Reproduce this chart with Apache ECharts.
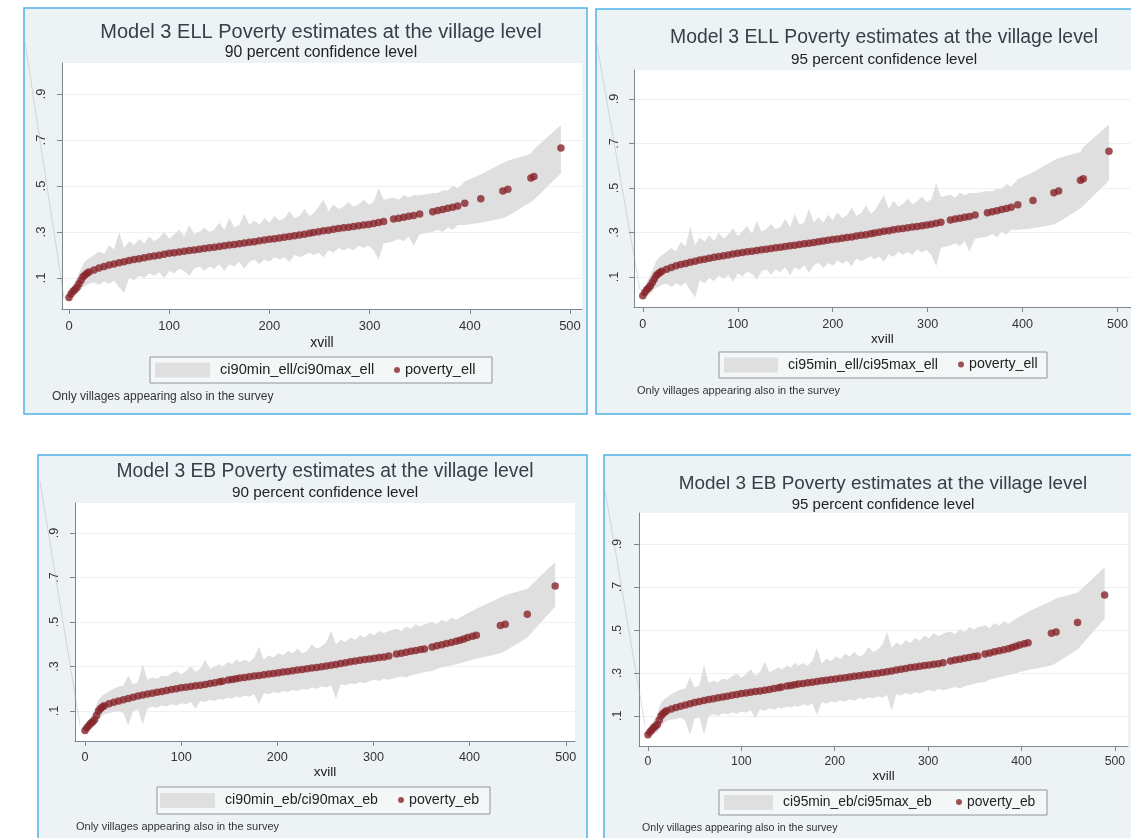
<!DOCTYPE html>
<html>
<head>
<meta charset="utf-8">
<script src="https://cdn.jsdelivr.net/npm/echarts@6/dist/echarts.min.js"></script>
<style>
  html, body { margin: 0; padding: 0; background: #ffffff; }
  #chart { width: 1131px; height: 838px; }
</style>
</head>
<body>
<div id="chart"></div>
<script>
// ---- ELL model: village rank, point estimate and confidence bounds ----
const xvillEll = [0,2,4,6,8,10,12,14,16,18,20,
  25,30,35,40,45,50,55,60,65,70,75,80,85,90,95,100,105,110,115,120,
  125,130,135,140,145,150,155,160,165,170,175,180,185,190,195,200,205,210,215,220,
  225,230,235,240,
  244,249,254,259,264,269,274,279,284,289,294,299,304,309,314,
  324,329,334,339,344,350,
  363,368,373,378,383,388,
  395,411,433,438,461,464,491];

const povertyEll = [0.015,0.03,0.042,0.05,0.06,0.075,0.09,0.105,0.113,0.12,0.126,
  0.135,0.143,0.15,0.156,0.161,0.166,0.171,0.176,0.18,0.184,0.188,0.192,0.195,0.199,0.203,0.207,0.21,0.213,0.216,0.219,
  0.222,0.225,0.228,0.231,0.234,0.237,0.24,0.243,0.246,0.249,0.252,0.255,0.258,0.262,0.265,0.268,0.271,0.274,0.277,0.28,
  0.284,0.287,0.29,0.294,
  0.298,0.301,0.305,0.308,0.312,0.315,0.318,0.321,0.324,0.327,0.33,0.333,0.337,0.341,0.346,
  0.356,0.36,0.364,0.368,0.372,0.378,
  0.388,0.393,0.398,0.403,0.408,0.413,
  0.425,0.444,0.478,0.486,0.535,0.541,0.665];

const ci90maxEll = [0.03,0.05,0.07,0.085,0.1,0.12,0.14,0.16,0.17,0.18,0.185,
  0.2,0.215,0.205,0.24,0.225,0.3,0.23,0.26,0.245,0.27,0.25,0.28,0.26,0.275,0.3,0.27,0.29,0.31,0.28,0.33,
  0.29,0.3,0.32,0.3,0.31,0.34,0.31,0.36,0.32,0.33,0.38,0.33,0.35,0.33,0.36,0.34,0.37,0.35,0.36,0.39,
  0.36,0.37,0.4,0.37,
  0.38,0.41,0.44,0.39,0.42,0.4,0.41,0.43,0.41,0.42,0.44,0.42,0.43,0.49,0.44,
  0.45,0.44,0.46,0.45,0.46,0.46,
  0.47,0.47,0.48,0.48,0.5,0.49,
  0.52,0.55,0.6,0.61,0.64,0.66,0.765];

const ci90minEll = [0.005,0.015,0.02,0.025,0.03,0.04,0.05,0.06,0.065,0.07,0.075,
  0.08,0.07,0.085,0.075,0.09,0.06,0.035,0.1,0.09,0.11,0.1,0.12,0.11,0.125,0.1,0.13,0.12,0.14,0.13,0.11,
  0.14,0.15,0.13,0.15,0.14,0.16,0.13,0.16,0.15,0.17,0.14,0.17,0.18,0.16,0.18,0.17,0.19,0.18,0.19,0.17,
  0.2,0.19,0.2,0.21,
  0.2,0.21,0.19,0.22,0.21,0.23,0.22,0.23,0.22,0.24,0.23,0.24,0.22,0.18,0.25,
  0.26,0.27,0.26,0.28,0.24,0.29,
  0.3,0.31,0.3,0.32,0.31,0.33,
  0.33,0.34,0.36,0.37,0.43,0.44,0.555];

const ci95maxEll = [0.033,0.054,0.076,0.092,0.108,0.129,0.15,0.171,0.181,0.192,0.197,
  0.213,0.229,0.216,0.257,0.238,0.327,0.242,0.277,0.258,0.287,0.262,0.298,0.273,0.29,0.319,0.283,0.306,0.329,0.293,0.352,
  0.304,0.315,0.338,0.314,0.325,0.361,0.324,0.383,0.335,0.346,0.406,0.345,0.368,0.344,0.379,0.354,0.39,0.365,0.377,0.412,
  0.375,0.387,0.422,0.385,
  0.396,0.432,0.467,0.406,0.442,0.417,0.428,0.452,0.427,0.439,0.462,0.437,0.449,0.52,0.459,
  0.469,0.456,0.479,0.466,0.478,0.476,
  0.486,0.485,0.496,0.495,0.518,0.505,
  0.539,0.571,0.624,0.635,0.661,0.684,0.785];

const ci95minEll = [0.003,0.012,0.016,0.02,0.024,0.033,0.042,0.051,0.055,0.06,0.065,
  0.069,0.055,0.072,0.059,0.076,0.039,0.008,0.085,0.072,0.095,0.082,0.106,0.093,0.11,0.079,0.115,0.102,0.125,0.113,0.088,
  0.124,0.135,0.11,0.134,0.121,0.145,0.108,0.143,0.131,0.154,0.118,0.153,0.164,0.14,0.163,0.15,0.174,0.161,0.173,0.148,
  0.183,0.171,0.182,0.193,
  0.18,0.192,0.167,0.202,0.19,0.213,0.2,0.212,0.199,0.223,0.21,0.221,0.197,0.148,0.231,
  0.241,0.252,0.239,0.262,0.214,0.272,
  0.282,0.293,0.28,0.303,0.29,0.313,
  0.311,0.319,0.336,0.347,0.409,0.42,0.533];

// ---- EB model ----
const xvillEb = [0,2,4,6,8,10,12,14,16,18,20,
  25,30,35,40,45,50,55,60,65,70,75,80,85,90,95,100,105,110,115,120,125,130,135,140,143,
  149,153,157,161,
  166,171,176,181,186,191,196,201,206,211,216,221,226,231,236,241,246,251,256,261,266,271,276,281,286,291,296,301,306,311,316,
  324,329,334,339,344,349,353,
  361,366,371,376,381,386,390,394,
  398,403,407,
  432,437,460,489];

const povertyEb = [0.012,0.025,0.035,0.045,0.052,0.06,0.08,0.1,0.11,0.118,0.124,
  0.132,0.139,0.145,0.151,0.156,0.162,0.167,0.172,0.176,0.18,0.184,0.188,0.192,0.196,0.2,0.204,0.207,0.21,0.213,0.216,0.219,0.223,0.227,0.231,0.234,
  0.239,0.242,0.245,0.248,
  0.251,0.254,0.257,0.26,0.263,0.266,0.269,0.272,0.275,0.278,0.281,0.284,0.287,0.29,0.293,0.296,0.299,0.302,0.305,0.309,0.313,0.317,0.321,0.325,0.328,0.331,0.334,0.337,0.34,0.343,0.347,
  0.356,0.36,0.364,0.368,0.372,0.376,0.379,
  0.388,0.393,0.398,0.403,0.408,0.413,0.418,0.424,
  0.43,0.436,0.44,
  0.484,0.49,0.535,0.662];

const ci90maxEb = [0.03,0.045,0.06,0.075,0.085,0.1,0.13,0.15,0.16,0.17,0.175,
  0.19,0.2,0.21,0.215,0.26,0.22,0.23,0.31,0.24,0.25,0.245,0.26,0.255,0.27,0.28,0.265,0.28,0.3,0.275,0.29,0.33,0.29,0.3,0.31,0.3,
  0.32,0.31,0.33,0.32,
  0.33,0.32,0.34,0.39,0.33,0.35,0.34,0.36,0.35,0.37,0.36,0.38,0.36,0.37,0.4,0.38,0.39,0.41,0.46,0.4,0.42,0.41,0.43,0.42,0.44,0.43,0.45,0.44,0.46,0.45,0.46,
  0.47,0.46,0.48,0.47,0.49,0.48,0.49,
  0.5,0.49,0.51,0.5,0.52,0.51,0.52,0.53,
  0.54,0.55,0.56,
  0.61,0.62,0.65,0.77];

const ci90minEb = [0,0.008,0.015,0.02,0.025,0.03,0.045,0.06,0.07,0.08,0.085,
  0.09,0.095,0.1,0.09,0.035,0.1,0.105,0.04,0.11,0.12,0.115,0.125,0.12,0.13,0.125,0.135,0.13,0.14,0.11,0.145,0.14,0.15,0.145,0.155,0.15,
  0.16,0.155,0.165,0.16,
  0.17,0.165,0.175,0.13,0.18,0.175,0.185,0.18,0.19,0.185,0.195,0.19,0.2,0.195,0.205,0.2,0.21,0.205,0.215,0.155,0.22,0.215,0.225,0.22,0.23,0.225,0.235,0.24,0.235,0.245,0.24,
  0.25,0.255,0.25,0.26,0.265,0.27,0.275,
  0.28,0.29,0.295,0.3,0.305,0.31,0.315,0.32,
  0.325,0.33,0.335,
  0.36,0.37,0.43,0.57];

const ci95maxEb = [0.034,0.049,0.065,0.081,0.092,0.108,0.14,0.16,0.17,0.18,0.185,
  0.202,0.212,0.223,0.228,0.281,0.232,0.243,0.338,0.253,0.264,0.257,0.274,0.268,0.285,0.296,0.277,0.295,0.318,0.287,0.305,0.352,0.303,0.315,0.326,0.313,
  0.336,0.324,0.347,0.334,
  0.346,0.333,0.357,0.416,0.343,0.367,0.354,0.378,0.365,0.388,0.376,0.399,0.375,0.386,0.421,0.397,0.408,0.432,0.491,0.418,0.441,0.429,0.452,0.439,0.462,0.45,0.473,0.461,0.484,0.471,0.483,
  0.493,0.48,0.503,0.49,0.514,0.501,0.512,
  0.522,0.509,0.532,0.519,0.542,0.529,0.54,0.551,
  0.562,0.573,0.584,
  0.635,0.646,0.673,0.792];

const ci95minEb = [0,0.005,0.011,0.015,0.02,0.024,0.038,0.052,0.062,0.072,0.077,
  0.082,0.086,0.091,0.078,0.011,0.088,0.093,0.014,0.097,0.108,0.101,0.112,0.106,0.117,0.11,0.121,0.115,0.126,0.089,0.131,0.124,0.135,0.129,0.14,0.133,
  0.144,0.138,0.149,0.142,
  0.154,0.147,0.159,0.104,0.163,0.157,0.168,0.162,0.173,0.166,0.178,0.171,0.183,0.176,0.187,0.181,0.192,0.186,0.197,0.124,0.201,0.195,0.206,0.199,0.21,0.204,0.215,0.221,0.214,0.225,0.219,
  0.229,0.234,0.227,0.238,0.244,0.249,0.254,
  0.258,0.269,0.274,0.279,0.284,0.289,0.294,0.299,
  0.304,0.309,0.314,
  0.335,0.346,0.409,0.552];

// ---- axis ticks and text ----
const xTicks = [0, 100, 200, 300, 400, 500];
const yTicks = [0.1, 0.3, 0.5, 0.7, 0.9];
const xTitle = 'xvill';
const noteText = 'Only villages appearing also in the survey';

const FONT = '"Liberation Sans", Arial, Helvetica, sans-serif';
const BAND = '#dfdfdf';
const DOT = '#87242a';
const TEXT = '#34404a';
const AXIS = '#7d878f';
const PANEL_BG = '#edf2f4';
const PANEL_EDGE = '#4fb2e6';

// Four graphs: model x confidence level
const panels = [
  { title: 'Model 3 ELL Poverty estimates at the village level', sub: '90 percent confidence level',
    x: xvillEll, y: povertyEll, lo: ci90minEll, hi: ci90maxEll,
    bandName: 'ci90min_ell/ci90max_ell', dotName: 'poverty_ell',
    frame: [24, 8, 563, 406], grid: { left: 62, top: 63, width: 520, height: 246 },
    xr: [-7, 512], yr: [-0.035, 1.035],
    tCx: 321, tCy: 32, sCy: 53, tFs: 20, sFs: 15.8, tickFs: 13, legFs: 14.6, noteFs: 12,
    yMargin: 14, xMargin: 11, nameGap: 27,
    box: [150, 357, 342, 26], swatch: 155, swatchW: 55, dot: 397, note: [52, 397],
    diag: [25, 42, 64, 298] },
  { title: 'Model 3 ELL Poverty estimates at the village level', sub: '95 percent confidence level',
    x: xvillEll, y: povertyEll, lo: ci95minEll, hi: ci95maxEll,
    bandName: 'ci95min_ell/ci95max_ell', dotName: 'poverty_ell',
    frame: [596, 9, 545, 405], grid: { left: 634, top: 70, width: 505, height: 237 },
    xr: [-9.3, 514], yr: [-0.035, 1.03],
    tCx: 884, tCy: 38, sCy: 60, tFs: 19.4, sFs: 15.3, tickFs: 12.6, legFs: 14.2, noteFs: 11,
    yMargin: 13, xMargin: 11, nameGap: 24,
    box: [719, 352, 328, 26], swatch: 724, swatchW: 54, dot: 961, note: [637, 391],
    diag: [597, 45, 640, 290] },
  { title: 'Model 3 EB Poverty estimates at the village level', sub: '90 percent confidence level',
    x: xvillEb, y: povertyEb, lo: ci90minEb, hi: ci90maxEb,
    bandName: 'ci90min_eb/ci90max_eb', dotName: 'poverty_eb',
    frame: [38, 455, 549, 400], grid: { left: 75, top: 503, width: 500, height: 238 },
    xr: [-10.4, 509.6], yr: [-0.035, 1.035],
    tCx: 325, tCy: 472, sCy: 493, tFs: 19.3, sFs: 15.3, tickFs: 12.6, legFs: 14.2, noteFs: 11,
    yMargin: 14, xMargin: 10, nameGap: 24,
    box: [157, 787, 333, 27], swatch: 160, swatchW: 55, dot: 401, note: [76, 827],
    diag: [40, 482, 80, 725] },
  { title: 'Model 3 EB Poverty estimates at the village level', sub: '95 percent confidence level',
    x: xvillEb, y: povertyEb, lo: ci95minEb, hi: ci95maxEb,
    bandName: 'ci95min_eb/ci95max_eb', dotName: 'poverty_eb',
    frame: [604, 455, 540, 400], grid: { left: 639, top: 513, width: 489, height: 233 },
    xr: [-9.6, 514], yr: [-0.04, 1.044],
    tCx: 883, tCy: 484, sCy: 505, tFs: 18.9, sFs: 15, tickFs: 12.3, legFs: 13.8, noteFs: 10.6,
    yMargin: 15, xMargin: 10, nameGap: 24,
    box: [719, 790, 328, 25], swatch: 724, swatchW: 49, dot: 959, note: [642, 828],
    diag: [605, 490, 645, 725] }
];

const titles = [], grids = [], xAxes = [], yAxes = [], series = [], legends = [], graphics = [];

panels.forEach((p, i) => {
  // graph region frame
  graphics.push({ type: 'rect', z: -10, silent: true,
    shape: { x: p.frame[0], y: p.frame[1], width: p.frame[2], height: p.frame[3] },
    style: { fill: PANEL_BG, stroke: PANEL_EDGE, lineWidth: 1.5 } });
  // legend box
  graphics.push({ type: 'rect', z: -5, silent: true,
    shape: { x: p.box[0], y: p.box[1], width: p.box[2], height: p.box[3] },
    style: { fill: '#f4f7f8', stroke: '#8d9499', lineWidth: 1 } });
  // faint stray stroke at the left of each graph
  graphics.push({ type: 'line', z: 50, silent: true,
    shape: { x1: p.diag[0], y1: p.diag[1], x2: p.diag[2], y2: p.diag[3] },
    style: { stroke: 'rgba(150,158,165,0.35)', lineWidth: 1 } });
  // note
  graphics.push({ type: 'text', z: 10, silent: true, x: p.note[0], y: p.note[1],
    style: { text: noteText, fill: '#333', fontFamily: FONT, fontSize: p.noteFs,
      textAlign: 'left', textVerticalAlign: 'middle' } });

  titles.push({ text: p.title, left: p.tCx, top: p.tCy - p.tFs / 2, textAlign: 'center', padding: 0,
    textStyle: { fontFamily: FONT, fontSize: p.tFs, fontWeight: 'normal', color: TEXT } });
  titles.push({ text: p.sub, left: p.tCx, top: p.sCy - p.sFs / 2, textAlign: 'center', padding: 0,
    textStyle: { fontFamily: FONT, fontSize: p.sFs, fontWeight: 'normal', color: '#222' } });

  grids.push(Object.assign({ show: true, backgroundColor: '#ffffff', borderWidth: 0, containLabel: false }, p.grid));

  xAxes.push({ type: 'value', gridIndex: i, min: p.xr[0], max: p.xr[1],
    name: xTitle, nameLocation: 'middle', nameGap: p.nameGap,
    nameTextStyle: { fontFamily: FONT, fontSize: p.tickFs + 1, color: '#222' },
    axisLine: { show: true, onZero: false, lineStyle: { color: AXIS, width: 1 } },
    axisTick: { show: true, length: 5, customValues: xTicks, lineStyle: { color: AXIS } },
    axisLabel: { customValues: xTicks, margin: p.xMargin, fontFamily: FONT, fontSize: p.tickFs, color: '#333' },
    splitLine: { show: false } });

  yAxes.push({ type: 'value', gridIndex: i, min: p.yr[0], max: p.yr[1],
    axisLine: { show: true, onZero: false, lineStyle: { color: AXIS, width: 1 } },
    axisTick: { show: true, length: 5, customValues: yTicks, lineStyle: { color: AXIS } },
    axisLabel: { customValues: yTicks, rotate: 90, margin: p.yMargin, fontFamily: FONT, fontSize: p.tickFs, color: '#333',
      formatter: v => v.toFixed(1).replace(/^0/, '') },
    splitLine: { show: true, lineStyle: { color: '#eef1f3', width: 1 } } });

  const xs = p.x, lo = p.lo, hi = p.hi;
  series.push({
    type: 'custom', name: p.bandName, xAxisIndex: i, yAxisIndex: i,
    itemStyle: { color: BAND }, silent: true, clip: true, z: 1,
    data: xs.map((v, k) => [v, lo[k], hi[k]]),
    encode: { x: 0, y: [1, 2] },
    renderItem: (params, api) => {
      if (params.dataIndex !== 0) return null;
      const pts = [];
      for (let k = 0; k < xs.length; k++) pts.push(api.coord([xs[k], hi[k]]));
      for (let k = xs.length - 1; k >= 0; k--) pts.push(api.coord([xs[k], lo[k]]));
      return { type: 'polygon', shape: { points: pts }, style: { fill: BAND } };
    }
  });
  series.push({
    type: 'scatter', name: p.dotName, xAxisIndex: i, yAxisIndex: i,
    symbol: 'circle', symbolSize: 7.5, silent: true, z: 3,
    itemStyle: { color: DOT },
    data: xs.map((v, k) => [v, p.y[k]])
  });

  const legMid = p.box[1] + p.box[3] / 2;
  legends.push({ data: [{ name: p.bandName, icon: 'rect', itemStyle: { color: BAND } }],
    left: p.swatch, top: legMid - 7.5, padding: 0, itemWidth: p.swatchW, itemHeight: 15,
    selectedMode: false,
    textStyle: { fontFamily: FONT, fontSize: p.legFs, color: '#222', padding: [0, 0, 0, 5] } });
  legends.push({ data: [{ name: p.dotName, icon: 'circle', itemStyle: { color: DOT } }],
    left: p.dot - 3, top: legMid - 7.5, padding: 0, itemWidth: 6, itemHeight: 15,
    selectedMode: false, textStyle: { fontFamily: FONT, fontSize: p.legFs, color: '#222' } });
});

const chart = echarts.init(document.getElementById('chart'), null, { renderer: 'canvas' });
chart.setOption({
  animation: false,
  backgroundColor: '#ffffff',
  title: titles,
  grid: grids,
  xAxis: xAxes,
  yAxis: yAxes,
  legend: legends,
  graphic: graphics,
  series: series
});
</script>
</body>
</html>
